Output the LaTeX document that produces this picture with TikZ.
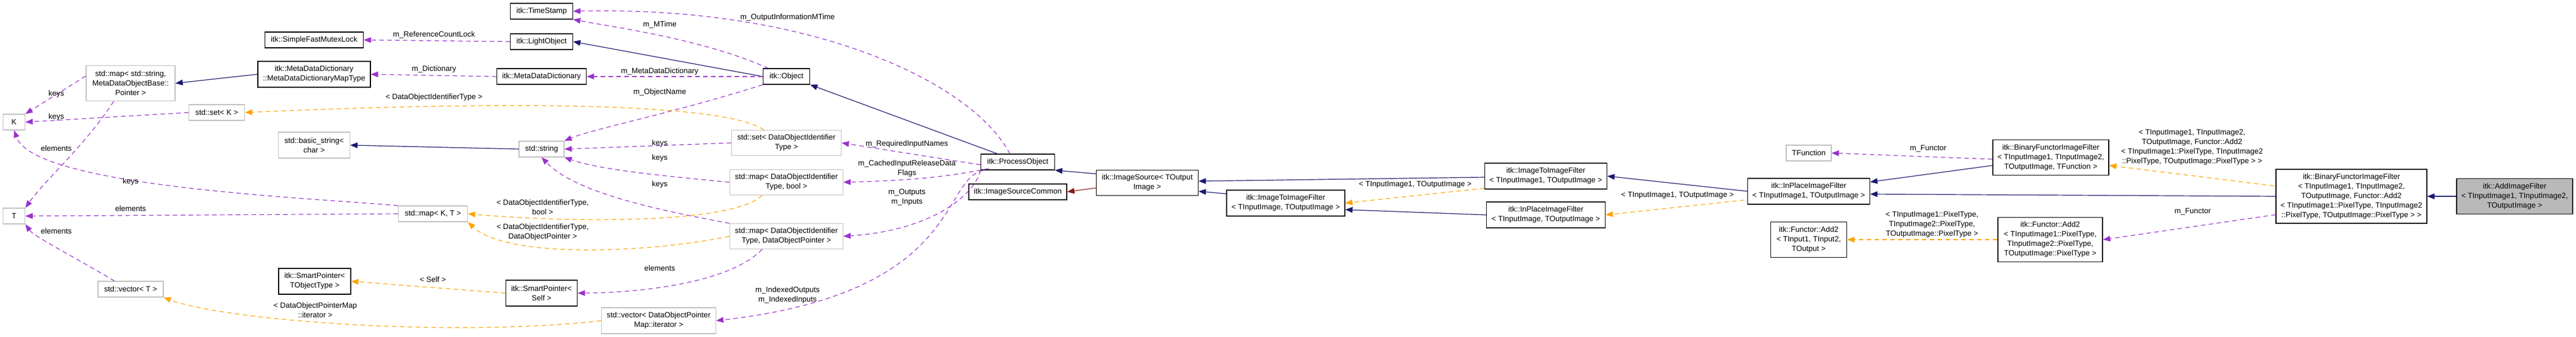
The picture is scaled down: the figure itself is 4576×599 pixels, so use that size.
\documentclass[tikz,border=0pt]{standalone}
\usepackage{fontspec}
\setmainfont{Liberation Sans}
\usetikzlibrary{arrows.meta}
\definecolor{navy}{HTML}{191970}
\definecolor{purp}{HTML}{9A32CD}
\definecolor{orng}{HTML}{FFA500}
\definecolor{dred}{HTML}{8B1A1A}
\definecolor{gbord}{HTML}{BFBFBF}
\begin{document}
\begin{tikzpicture}[x=1pt,y=1pt,
  every node/.style={font=\fontsize{13.5}{17}\selectfont, inner sep=2pt},
  doc/.style={draw=black, line width=1.2pt, fill=white, align=center, minimum height=28pt},
  und/.style={draw=gbord, line width=1.2pt, fill=white, align=center, minimum height=28pt},
  inh/.style={draw=navy, line width=1.2pt, -{Triangle[length=13pt,width=10pt]}},
  prv/.style={draw=dred, line width=1.2pt, -{Triangle[length=13pt,width=10pt]}},
  use/.style={draw=purp, line width=1.2pt, dash pattern=on 8pt off 6pt, -{Triangle[length=13pt,width=10pt]}},
  tpl/.style={draw=orng, line width=1.2pt, dash pattern=on 8pt off 6pt, -{Triangle[length=13pt,width=10pt]}},
  lbl/.style={align=center, fill=none}]
\useasboundingbox (0,0) rectangle (4576,-599);
% nodes
\node[doc, minimum width=175pt] (mutex) at (558,-71) {itk::SimpleFastMutexLock};
\node[doc, minimum width=200pt, minimum height=46pt] (mapty) at (558,-132) {itk::MetaDataDictionary\\::MetaDataDictionaryMapType};
\node[und, minimum width=158pt, minimum height=63pt] (mapstr) at (232,-148) {std::map< std::string,\\ MetaDataObjectBase::\\Pointer >};
\node[und, minimum width=39pt] (K) at (25,-217) {K};
\node[und, minimum width=99pt] (setK) at (385,-200) {std::set< K >};
\node[und, minimum width=127pt, minimum height=46pt] (bstr) at (558,-258) {std::basic\_string<\\char >};
\node[und, minimum width=39pt] (T) at (25,-384) {T};
\node[und, minimum width=123pt] (mapKT) at (769,-380) {std::map< K, T >};
\node[doc, minimum width=128pt, minimum height=46pt] (spT) at (559,-500) {itk::SmartPointer<\\TObjectType >};
\node[und, minimum width=116pt] (vecT) at (232,-514) {std::vector< T >};
\node[doc, minimum width=111pt] (ts) at (962,-20) {itk::TimeStamp};
\node[doc, minimum width=111pt] (lo) at (962,-74) {itk::LightObject};
\node[doc, minimum width=159pt] (mdd) at (962,-136) {itk::MetaDataDictionary};
\node[doc, minimum width=83pt] (obj) at (1397,-136) {itk::Object};
\node[und, minimum width=80pt] (str) at (962,-265) {std::string};
\node[und, minimum width=195pt, minimum height=45pt] (setD) at (1397,-254) {std::set< DataObjectIdentifier\\Type >};
\node[und, minimum width=201pt, minimum height=45pt] (mapDB) at (1397,-324) {std::map< DataObjectIdentifier\\Type, bool >};
\node[und, minimum width=201pt, minimum height=45pt] (mapDP) at (1397,-420) {std::map< DataObjectIdentifier\\Type, DataObjectPointer >};
\node[doc, minimum width=127pt, minimum height=46pt] (spS) at (962,-521) {itk::SmartPointer<\\Self >};
\node[und, minimum width=203pt, minimum height=46pt] (vecI) at (1170,-570) {std::vector< DataObjectPointer\\Map::iterator >};
\node[doc, minimum width=131pt] (po) at (1808,-288) {itk::ProcessObject};
\node[doc, minimum width=174pt] (isc) at (1808,-341) {itk::ImageSourceCommon};
\node[doc, minimum width=181pt, minimum height=45pt] (is) at (2038,-325) {itk::ImageSource< TOutput\\Image >};
\node[doc, minimum width=210pt, minimum height=46pt] (itiA) at (2284,-361) {itk::ImageToImageFilter\\< TInputImage, TOutputImage >};
\node[doc, minimum width=217pt, minimum height=46pt] (itiB) at (2746,-313) {itk::ImageToImageFilter\\< TInputImage1, TOutputImage >};
\node[doc, minimum width=211pt, minimum height=46pt] (ipA) at (2746,-382) {itk::InPlaceImageFilter\\< TInputImage, TOutputImage >};
\node[und, minimum width=80pt] (tf) at (3213,-272) {TFunction};
\node[doc, minimum width=217pt, minimum height=46pt] (ipB) at (3213,-340) {itk::InPlaceImageFilter\\< TInputImage1, TOutputImage >};
\node[doc, minimum width=135pt, minimum height=63pt] (addT) at (3213,-426) {itk::Functor::Add2\\< TInput1, TInput2,\\TOutput >};
\node[doc, minimum width=206pt, minimum height=63pt] (bfT) at (3643,-280) {itk::BinaryFunctorImageFilter\\< TInputImage1, TInputImage2,\\TOutputImage, TFunction >};
\node[doc, minimum width=268pt, minimum height=96pt] (bfA) at (4177,-349) {itk::BinaryFunctorImageFilter\\< TInputImage1, TInputImage2,\\TOutputImage, Functor::Add2\\< TInputImage1::PixelType, TInputImage2\\::PixelType, TOutputImage::PixelType > >};
\node[doc, minimum width=186pt, minimum height=79pt] (addP) at (3642,-426) {itk::Functor::Add2\\< TInputImage1::PixelType,\\TInputImage2::PixelType,\\TOutputImage::PixelType >};
\node[doc, fill=gray!55, minimum width=206pt, minimum height=63pt] (aif) at (4467,-349) {itk::AddImageFilter\\< TInputImage1, TInputImage2,\\TOutputImage >};
% edges
\draw[use] (lo.west) -- (mutex.east);
\draw[use] (mdd.west) -- (mapty.east);
\draw[inh] (mapty.west) -- (mapstr.east);
\draw[use] ([yshift=45pt]mapstr.south west) -- (K.north east);
\draw[use] ([xshift=-30pt]mapstr.south) .. controls (150,-260) and (80,-320) .. (T.north east);
\draw[use] (setK.west) -- (K.east);
\draw[use] (mapKT.north west) .. controls (520,-350) and (60,-330) .. (K.south);
\draw[use] (mapKT.west) -- (T.east);
\draw[use] ([xshift=30pt]vecT.north west) .. controls (120,-450) and (60,-420) .. (T.south east);
\draw[inh] (str.west) -- (bstr.east);
\draw[inh] (obj.west) -- (lo.east);
\draw[use] (obj.west) -- (mdd.east);
\draw[use] ([xshift=10pt]obj.north west) .. controls (1250,-70) and (1100,-50) .. (ts.south east);
\draw[use] (obj.south west) .. controls (1200,-200) and (1050,-230) .. (str.north east);
\draw[use] (setD.west) -- (str.east);
\draw[use] (mapDB.west) .. controls (1150,-310) and (1060,-300) .. (str.south east);
\draw[use] (mapDP.north west) .. controls (1150,-370) and (1020,-340) .. (str.south);
\draw[tpl] ([xshift=58pt]setD.north west) .. controls (1300,-190) and (1000,-175) .. (setK.east);
\draw[tpl] ([xshift=58pt]mapDB.south west) .. controls (1300,-400) and (1000,-395) .. (mapKT.east);
\draw[tpl] (mapDP.west) .. controls (1150,-450) and (900,-460) .. (mapKT.south east);
\draw[use] ([xshift=58pt]mapDP.south west) .. controls (1300,-500) and (1150,-520) .. (spS.east);
\draw[tpl] (spS.west) -- (spT.east);
\draw[tpl] (vecI.west) .. controls (800,-600) and (400,-570) .. (vecT.south east);
\draw[inh] ([xshift=30pt]po.north west) -- (obj.south east);
\draw[use] ([xshift=52pt]po.north west) .. controls (1730,-150) and (1450,-10) .. (ts.east);
\draw[use] ([yshift=-5pt]po.west) -- (setD.east);
\draw[use] ([shift={(15pt,3pt)}]po.south west) .. controls (1700,-310) and (1650,-320) .. (mapDB.east);
\draw[use] (po.south west) .. controls (1730,-350) and (1650,-410) .. (mapDP.east);
\draw[use] ([xshift=5pt]po.south west) .. controls (1670,-320) and (1710,-520) .. (vecI.east);
\draw[inh] ([yshift=-7pt]is.north west) -- (po.south east);
\draw[prv] ([yshift=-9pt]is.west) -- (isc.east);
\draw[inh] ([yshift=-7pt]itiA.north west) -- ([yshift=-15pt]is.east);
\draw[inh] ([yshift=-2pt]itiB.west) -- ([yshift=3pt]is.east);
\draw[tpl] ([yshift=2pt]itiB.south west) -- (itiA.east);
\draw[inh] (ipA.west) -- ([yshift=12pt]itiA.south east);
\draw[inh] (ipB.west) -- (itiB.east);
\draw[tpl] ([shift={(-5pt,8pt)}]ipB.south west) -- (ipA.east);
\draw[inh] ([yshift=18pt]bfT.south west) -- ([yshift=-7pt]ipB.north east);
\draw[use] ([yshift=-3pt]bfT.west) -- (tf.east);
\draw[inh] (bfA.west) -- ([yshift=-5pt]ipB.east);
\draw[tpl] ([shift={(-3pt,-30pt)}]bfA.north west) -- ([yshift=-14pt]bfT.east);
\draw[use] ([yshift=16pt]bfA.south west) -- (addP.east);
\draw[tpl] (addP.west) -- (addT.east);
\draw[inh] (aif.west) -- (bfA.east);
% labels
\node[lbl] at (771,-62) {m\_ReferenceCountLock};
\node[lbl] at (771,-123) {m\_Dictionary};
\node[lbl] at (771,-173) {< DataObjectIdentifierType >};
\node[lbl] at (100,-167) {keys};
\node[lbl] at (100,-208) {keys};
\node[lbl] at (100,-264) {elements};
\node[lbl] at (232,-323) {keys};
\node[lbl] at (232,-371) {elements};
\node[lbl] at (100,-411) {elements};
\node[lbl] at (769,-497) {< Self >};
\node[lbl] at (560,-551) {< DataObjectPointerMap\\::iterator >};
\node[lbl] at (1399,-31) {m\_OutputInformationMTime};
\node[lbl] at (1172,-44) {m\_MTime};
\node[lbl] at (1172,-127) {m\_MetaDataDictionary};
\node[lbl] at (1172,-164) {m\_ObjectName};
\node[lbl] at (1172,-255) {keys};
\node[lbl] at (1172,-281) {keys};
\node[lbl] at (1172,-328) {keys};
\node[lbl] at (964,-368) {< DataObjectIdentifierType,\\bool >};
\node[lbl] at (964,-413) {< DataObjectIdentifierType,\\DataObjectPointer >};
\node[lbl] at (1172,-477) {elements};
\node[lbl] at (1611,-256) {m\_RequiredInputNames};
\node[lbl] at (1611,-300) {m\_CachedInputReleaseData\\Flags};
\node[lbl] at (1611,-351) {m\_Outputs\\m\_Inputs};
\node[lbl] at (1399,-525) {m\_IndexedOutputs\\m\_IndexedInputs};
\node[lbl] at (2514,-328) {< TInputImage1, TOutputImage >};
\node[lbl] at (2980,-347) {< TInputImage1, TOutputImage >};
\node[lbl] at (3425,-264) {m\_Functor};
\node[lbl] at (3432,-399) {< TInputImage1::PixelType,\\TInputImage2::PixelType,\\TOutputImage::PixelType >};
\node[lbl] at (3894,-262) {< TInputImage1, TInputImage2,\\TOutputImage, Functor::Add2\\< TInputImage1::PixelType, TInputImage2\\::PixelType, TOutputImage::PixelType > >};
\node[lbl] at (3895,-376) {m\_Functor};
\end{tikzpicture}
\end{document}
